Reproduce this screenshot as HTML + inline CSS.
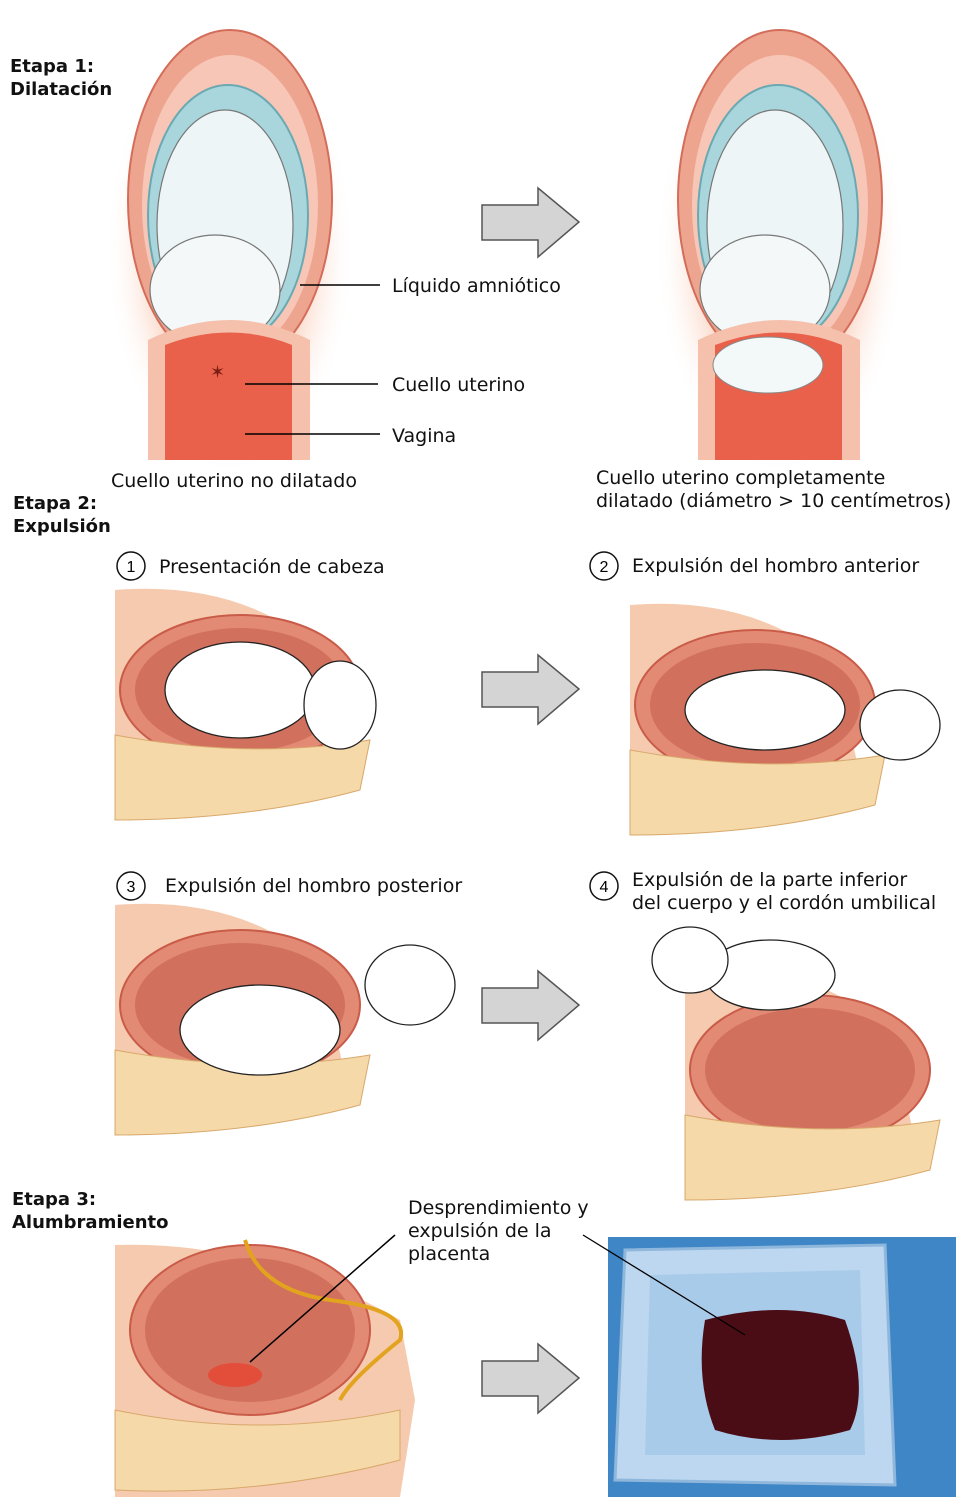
<!DOCTYPE html>
<html><head><meta charset="utf-8"><style>
html,body{margin:0;padding:0;background:#fff;}
body{width:960px;height:1502px;position:relative;overflow:hidden;font-family:"Liberation Sans","DejaVu Sans",sans-serif;}
.t{position:absolute;font-size:19px;color:#111;white-space:nowrap;line-height:23px;font-family:"DejaVu Sans","Liberation Sans",sans-serif;}
.b{font-weight:bold;font-size:18px;}
svg{position:absolute;left:0;top:0;}
</style></head><body>
<svg width="960" height="1502" viewBox="0 0 960 1502">
<defs>
<radialGradient id="glow" cx="50%" cy="50%" r="50%"><stop offset="0.6" stop-color="#fbd5c4"/><stop offset="1" stop-color="#fff" stop-opacity="0"/></radialGradient>
<g id="arrow"><polygon points="482,205 538,205 538,188 579,222 538,257 538,240 482,240" fill="#d4d4d4" stroke="#555" stroke-width="1.5"/></g>
<g id="st1">
<ellipse cx="230" cy="250" rx="125" ry="225" fill="url(#glow)"/>
<ellipse cx="230" cy="200" rx="102" ry="170" fill="#eda58f" stroke="#d36d5a" stroke-width="2"/>
<ellipse cx="230" cy="205" rx="88" ry="150" fill="#f7c6b6"/>
<ellipse cx="228" cy="215" rx="80" ry="130" fill="#a9d6dc" stroke="#6aa9b2" stroke-width="2"/>
<ellipse cx="225" cy="225" rx="68" ry="115" fill="#eef5f6" stroke="#777" stroke-width="1.2"/>
<ellipse cx="215" cy="290" rx="65" ry="55" fill="#f4f8f9" stroke="#777" stroke-width="1.2"/>
<path d="M148,340 L148,460 L310,460 L310,340 Q230,300 148,340Z" fill="#f5c0ac"/>
<path d="M165,345 L165,460 L292,460 L292,345 Q230,320 165,345Z" fill="#e9614b"/>
</g>
<g id="pel"><path d="M115,595 Q230,585 330,640 L400,625 L360,760 L115,765Z" fill="#fff"/>
<path d="M115,590 Q240,580 320,650 L345,760 L115,760Z" fill="#f6caae"/>
<ellipse cx="240" cy="690" rx="120" ry="75" fill="#e38a74" stroke="#c95b49" stroke-width="2"/>
<ellipse cx="240" cy="690" rx="105" ry="62" fill="#d2705e"/>
<path d="M115,735 Q250,760 370,740 L360,790 Q250,820 115,820Z" fill="#f5d9a9" stroke="#d8a86b"/>
</g>
</defs>
<!-- Stage 1 -->
<use href="#st1"/>
<use href="#st1" transform="translate(550,0)"/>
<ellipse cx="768" cy="365" rx="55" ry="28" fill="#f3f8f9" stroke="#888"/>
<text x="210" y="378" fill="#7a1d12" font-size="18">✶</text>
<line x1="300" y1="285" x2="380" y2="285" stroke="#000" stroke-width="1.5"/>
<line x1="245" y1="384" x2="378" y2="384" stroke="#000" stroke-width="1.5"/>
<line x1="245" y1="434" x2="380" y2="434" stroke="#000" stroke-width="1.5"/>
<use href="#arrow"/>
<use href="#arrow" transform="translate(0,467)"/>
<use href="#arrow" transform="translate(0,783)"/>
<use href="#arrow" transform="translate(0,1156)"/>
<!-- Stage 2 -->
<use href="#pel"/>
<use href="#pel" transform="translate(515,15)"/>
<use href="#pel" transform="translate(0,315)"/>
<g transform="translate(570,380)"><use href="#pel"/></g>
<g fill="#fff" stroke="#222" stroke-width="1.3">
<ellipse cx="240" cy="690" rx="75" ry="48"/><ellipse cx="340" cy="705" rx="36" ry="44"/>
<ellipse cx="765" cy="710" rx="80" ry="40"/><ellipse cx="900" cy="725" rx="40" ry="35"/>
<ellipse cx="260" cy="1030" rx="80" ry="45"/><ellipse cx="410" cy="985" rx="45" ry="40"/>
<ellipse cx="770" cy="975" rx="65" ry="35"/><ellipse cx="690" cy="960" rx="38" ry="33"/>
</g>
<circle cx="131" cy="566" r="14" fill="none" stroke="#111" stroke-width="1.5"/>
<circle cx="604" cy="566" r="14" fill="none" stroke="#111" stroke-width="1.5"/>
<circle cx="131" cy="886" r="14" fill="none" stroke="#111" stroke-width="1.5"/>
<circle cx="604" cy="886" r="14" fill="none" stroke="#111" stroke-width="1.5"/>
<text x="131" y="572" font-size="16" text-anchor="middle">1</text>
<text x="604" y="572" font-size="16" text-anchor="middle">2</text>
<text x="131" y="892" font-size="16" text-anchor="middle">3</text>
<text x="604" y="892" font-size="16" text-anchor="middle">4</text>
<!-- Stage 3 -->
<path d="M115,1245 Q260,1240 400,1320 L415,1400 L400,1497 L115,1497Z" fill="#f6caae"/>
<ellipse cx="250" cy="1330" rx="120" ry="85" fill="#e38a74" stroke="#c95b49" stroke-width="2"/>
<ellipse cx="250" cy="1330" rx="105" ry="72" fill="#d2705e"/>
<path d="M115,1410 Q260,1440 400,1410 L400,1460 Q260,1497 115,1490Z" fill="#f5d9a9" stroke="#d8a86b"/>
<path d="M245,1240 Q260,1290 330,1300 Q410,1310 400,1340 Q350,1380 340,1400" fill="none" stroke="#e2a31e" stroke-width="4"/>
<ellipse cx="235" cy="1375" rx="27" ry="12" fill="#e34e3a"/>
<line x1="250" y1="1362" x2="395" y2="1235" stroke="#000" stroke-width="1.5"/>
<rect x="608" y="1237" width="348" height="260" fill="#3f86c6"/>
<path d="M625,1250 L885,1245 L895,1485 L615,1480Z" fill="#bcd7ef" stroke="#8fb7dc" stroke-width="3"/>
<path d="M650,1275 L860,1270 L865,1455 L645,1455Z" fill="#a9cbea"/>
<path d="M705,1320 Q780,1300 845,1320 Q870,1390 850,1430 Q780,1450 715,1430 Q695,1380 705,1320Z" fill="#4a0d16"/>
<line x1="583" y1="1235" x2="745" y2="1335" stroke="#000" stroke-width="1.3"/>
</svg>
<div class="t b" style="left:10px;top:55px">Etapa 1:<br>Dilatación</div>
<div class="t" style="left:392px;top:275px">Líquido amniótico</div>
<div class="t" style="left:392px;top:374px">Cuello uterino</div>
<div class="t" style="left:392px;top:425px">Vagina</div>
<div class="t" style="left:111px;top:470px">Cuello uterino no dilatado</div>
<div class="t" style="left:596px;top:467px">Cuello uterino completamente<br>dilatado (diámetro &gt; 10 centímetros)</div>
<div class="t b" style="left:13px;top:492px">Etapa 2:<br>Expulsión</div>
<div class="t" style="left:159px;top:556px">Presentación de cabeza</div>
<div class="t" style="left:632px;top:555px">Expulsión del hombro anterior</div>
<div class="t" style="left:165px;top:875px">Expulsión del hombro posterior</div>
<div class="t" style="left:632px;top:869px">Expulsión de la parte inferior<br>del cuerpo y el cordón umbilical</div>
<div class="t b" style="left:12px;top:1188px">Etapa 3:<br>Alumbramiento</div>
<div class="t" style="left:408px;top:1197px">Desprendimiento y<br>expulsión de la<br>placenta</div>
</body></html>
